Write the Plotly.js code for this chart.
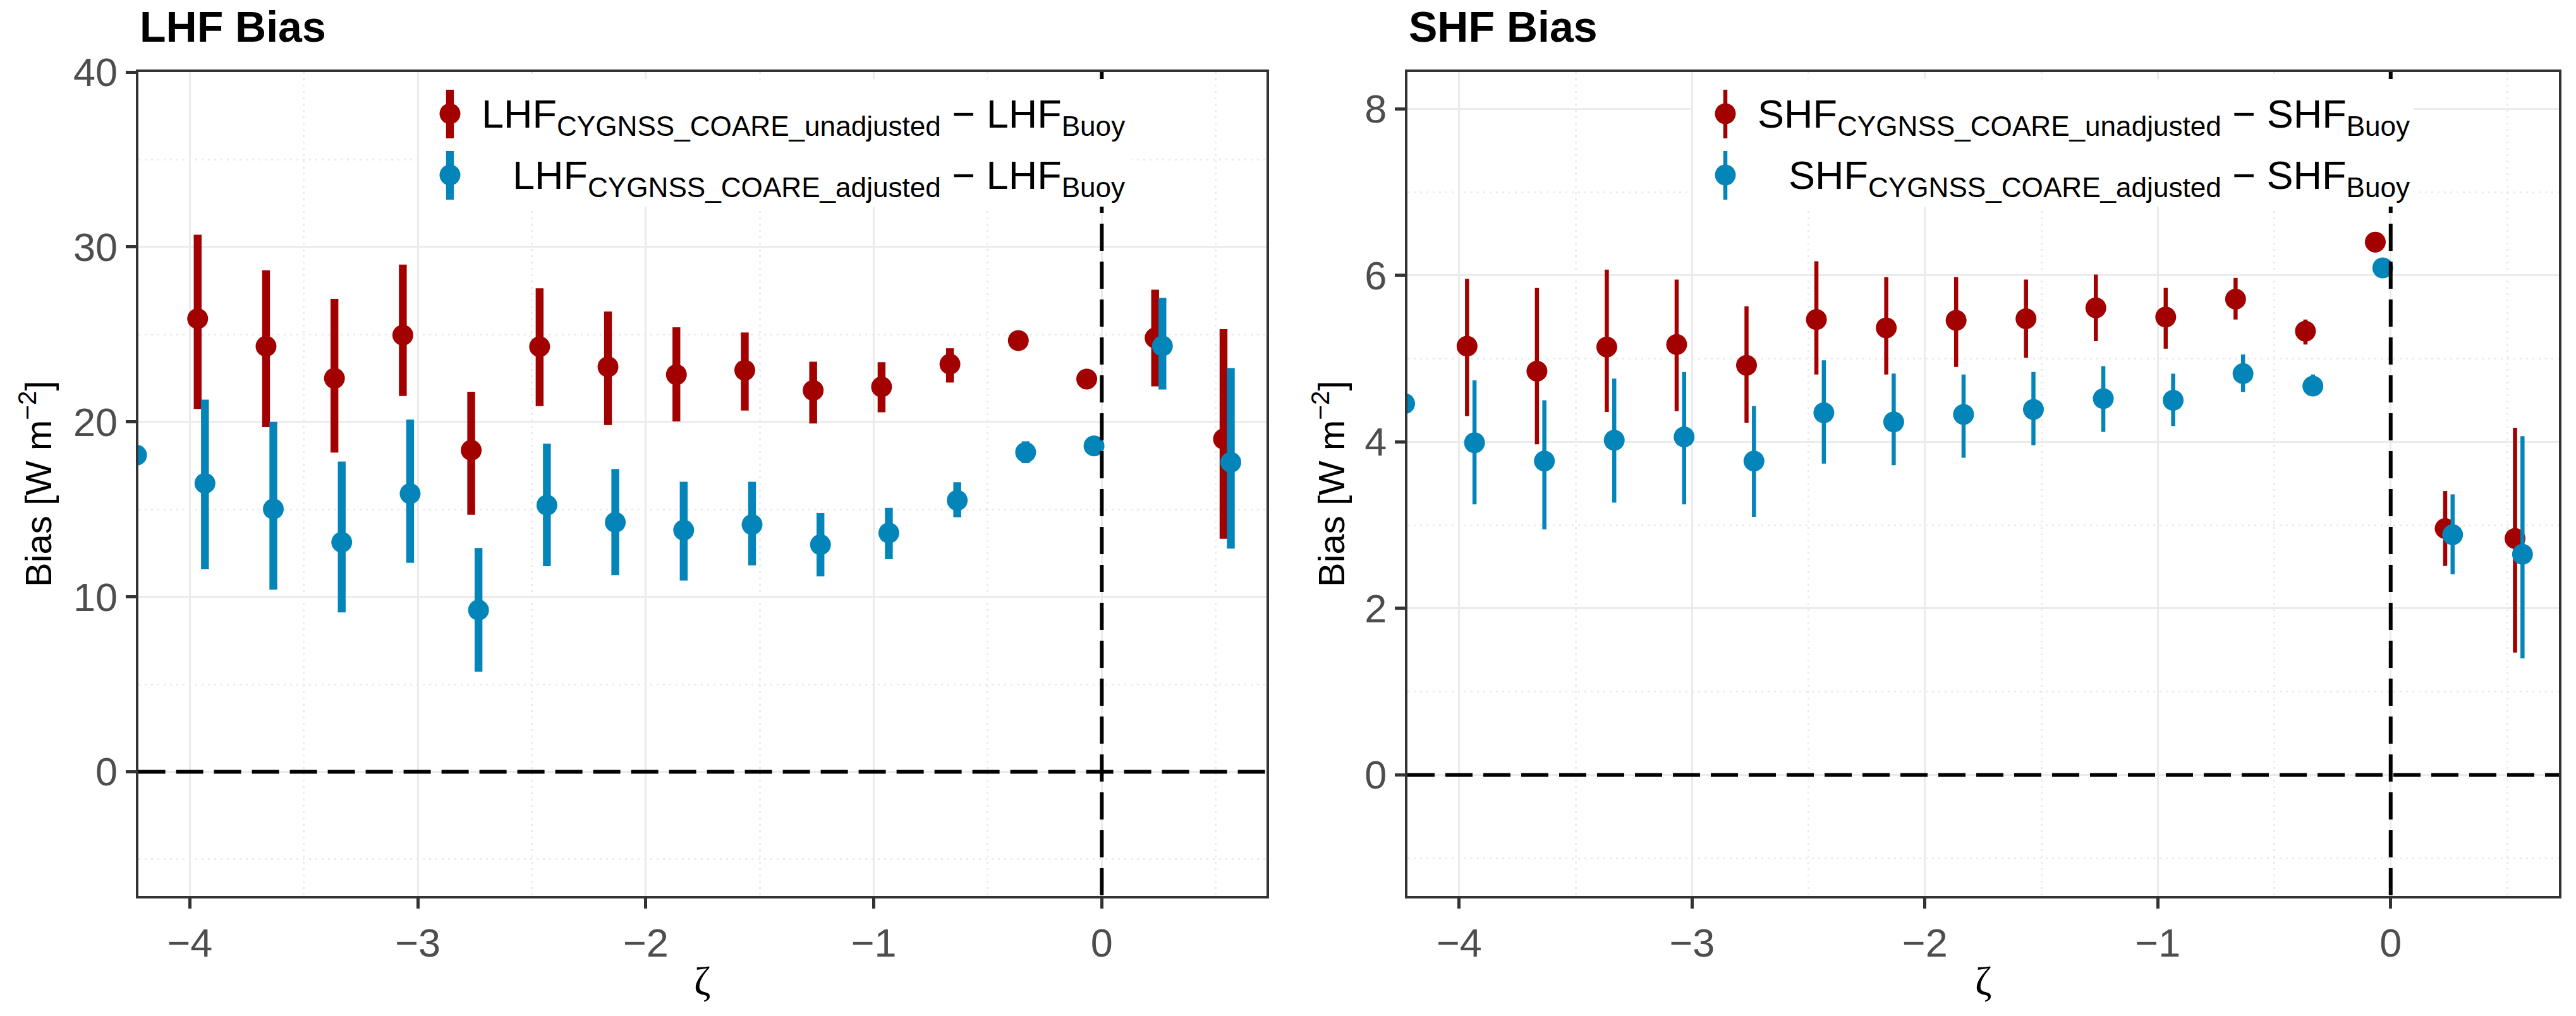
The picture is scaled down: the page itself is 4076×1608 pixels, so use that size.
<!DOCTYPE html>
<html><head><meta charset="utf-8">
<script src="https://cdn.plot.ly/plotly-3.0.1.min.js"></script>
<style>html,body{margin:0;padding:0;background:#fff}</style>
</head><body><div id="chart" style="width:4076px;height:1608px"></div>
<script>
// ---- data ----
const zetaUnadj = [-3.966, -3.666, -3.366, -3.066, -2.766, -2.466, -2.166, -1.866, -1.566, -1.266, -0.966, -0.666, -0.366, -0.066, 0.234, 0.534];
const zetaAdj = [-4.234, -3.934, -3.634, -3.334, -3.034, -2.734, -2.434, -2.134, -1.834, -1.534, -1.234, -0.934, -0.634, -0.334, -0.034, 0.266, 0.566];

const lhfUnadj   = [25.90, 24.32, 22.49, 24.96, 18.38, 24.30, 23.15, 22.70, 22.95, 21.80, 22.00, 23.30, 24.65, 22.45, 24.80, 19.02];
const lhfUnadjLo = [20.74, 19.70, 18.25, 21.48, 14.69, 20.90, 19.82, 20.03, 20.65, 19.91, 20.55, 22.25, 24.35, 22.15, 22.03, 13.32];
const lhfUnadjHi = [30.70, 28.67, 27.03, 28.99, 21.72, 27.64, 26.31, 25.41, 25.11, 23.44, 23.41, 24.21, 24.95, 22.75, 27.56, 25.30];

const lhfAdj   = [18.10, 16.49, 15.02, 13.12, 15.90, 9.24, 15.24, 14.26, 13.81, 14.13, 12.98, 13.65, 15.51, 18.26, 18.63, 24.34, 17.69];
const lhfAdjLo = [18.10, 11.57, 10.41, 9.11, 11.94, 5.72, 11.75, 11.24, 10.93, 11.80, 11.17, 12.15, 14.55, 17.64, 18.33, 21.85, 12.76];
const lhfAdjHi = [18.10, 21.27, 20.00, 17.73, 20.13, 12.79, 18.75, 17.31, 16.58, 16.58, 14.79, 15.09, 16.55, 18.89, 18.93, 27.09, 23.08];

const shfUnadj   = [5.15, 4.85, 5.14, 5.17, 4.92, 5.47, 5.37, 5.46, 5.48, 5.61, 5.50, 5.715, 5.33, 6.40, 2.96, 2.84];
const shfUnadjLo = [4.31, 3.97, 4.36, 4.37, 4.23, 4.81, 4.81, 4.90, 5.01, 5.21, 5.12, 5.47, 5.17, 6.35, 2.51, 1.47];
const shfUnadjHi = [5.96, 5.85, 6.07, 5.95, 5.63, 6.17, 5.98, 5.98, 5.95, 6.01, 5.85, 5.97, 5.47, 6.45, 3.41, 4.17];

const shfAdj   = [4.46, 3.99, 3.77, 4.02, 4.06, 3.77, 4.35, 4.24, 4.33, 4.39, 4.52, 4.50, 4.82, 4.67, 6.09, 2.885, 2.65];
const shfAdjLo = [4.46, 3.25, 2.95, 3.27, 3.25, 3.10, 3.74, 3.72, 3.81, 3.96, 4.12, 4.19, 4.60, 4.565, 6.04, 2.41, 1.40];
const shfAdjHi = [4.46, 4.74, 4.50, 4.76, 4.84, 4.43, 4.98, 4.82, 4.81, 4.84, 4.91, 4.82, 5.05, 4.81, 6.14, 3.37, 4.07];

const xTicks = [-4, -3, -2, -1, 0];
const lhfTicks = [0, 10, 20, 30, 40];
const shfTicks = [0, 2, 4, 6, 8];
const panelTitles = ['LHF Bias', 'SHF Bias'];
const legendLHF = ['LHF<sub>CYGNSS_COARE_unadjusted</sub> \u2212 LHF<sub>Buoy</sub>', 'LHF<sub>CYGNSS_COARE_adjusted</sub> \u2212 LHF<sub>Buoy</sub>'];
const legendSHF = ['SHF<sub>CYGNSS_COARE_unadjusted</sub> \u2212 SHF<sub>Buoy</sub>', 'SHF<sub>CYGNSS_COARE_adjusted</sub> \u2212 SHF<sub>Buoy</sub>'];
const yTitle = 'Bias [W m<sup>\u22122</sup>]';
const xTitle = '\u03B6';

// ---- styling ----
const RED = '#A30000', BLUE = '#0385B9';
const W = 4076, H = 1608;
const FONT = 'Liberation Sans, Arial, Helvetica, sans-serif';

function sub(a, b) { return a.map((v, i) => v - b[i]); }
function trace(x, y, lo, hi, color, thick, xa, ya, name) {
  return {
    type: 'scatter', mode: 'markers', x: x, y: y, name: name, xaxis: xa, yaxis: ya,
    marker: {color: color, size: 33, line: {width: 0}},
    error_y: {type: 'data', symmetric: false, array: sub(hi, y), arrayminus: sub(y, lo),
              color: color, thickness: thick, width: 0},
    showlegend: false, hoverinfo: 'x+y'
  };
}

const data = [
  trace(zetaUnadj, lhfUnadj, lhfUnadjLo, lhfUnadjHi, RED, 12.4, 'x', 'y', 'LHF unadjusted'),
  trace(zetaAdj, lhfAdj, lhfAdjLo, lhfAdjHi, BLUE, 12.4, 'x', 'y', 'LHF adjusted'),
  trace(zetaUnadj, shfUnadj, shfUnadjLo, shfUnadjHi, RED, 6.5, 'x2', 'y2', 'SHF unadjusted'),
  trace(zetaAdj, shfAdj, shfAdjLo, shfAdjHi, BLUE, 6.5, 'x2', 'y2', 'SHF adjusted')
];

const yDom = [1 - 1418 / H, 1 - 114 / H];
const minorBase = {showgrid: true, gridcolor: '#EBEBEB', gridwidth: 3, griddash: '3px,7px', ticks: ''};
function ax(extra, minorExtra) {
  return Object.assign({
    showline: true, linecolor: '#333333', linewidth: 4, mirror: true,
    ticks: 'outside', ticklen: 16, tickwidth: 5, tickcolor: '#333333',
    tickfont: {family: FONT, size: 63, color: '#4D4D4D'},
    showgrid: true, gridcolor: '#EBEBEB', gridwidth: 3, zeroline: false,
    minor: Object.assign({}, minorBase, minorExtra)
  }, extra);
}

const layout = {
  width: W, height: H, margin: {l: 0, r: 0, t: 0, b: 0},
  paper_bgcolor: '#ffffff', plot_bgcolor: '#ffffff', showlegend: false,
  font: {family: FONT, color: '#000000'},
  xaxis: ax({domain: [218.6 / W, 2003.6 / W], range: [-4.227, 0.7215], tickmode: 'array', tickvals: xTicks, anchor: 'y'},
            {dtick: 0.5, tick0: 0}),
  yaxis: ax({domain: yDom, range: [-7.1, 40], tickmode: 'array', tickvals: lhfTicks, anchor: 'x'},
            {dtick: 5, tick0: 0}),
  xaxis2: ax({domain: [2227 / W, 4049 / W], range: [-4.222, 0.7225], tickmode: 'array', tickvals: xTicks, anchor: 'y2'},
            {dtick: 0.5, tick0: 0}),
  yaxis2: ax({domain: yDom, range: [-1.454, 8.443], tickmode: 'array', tickvals: shfTicks, anchor: 'x2'},
            {dtick: 1, tick0: 0}),
  shapes: [], annotations: []
};

const dashStyle = {color: '#000000', width: 6, dash: '43px,17px'};
[['x', 'y'], ['x2', 'y2']].forEach(([xa, ya]) => {
  layout.shapes.push({type: 'line', layer: 'above', xref: xa + ' domain', yref: ya, x0: 0, x1: 1, y0: 0, y1: 0, line: dashStyle});
  layout.shapes.push({type: 'line', layer: 'above', xref: xa, yref: ya + ' domain', x0: 0, x1: 0, y0: 1, y1: 0, line: dashStyle});
});

// legend boxes (drawn manually, ggplot-style inside the panel)
function px(v) { return v / W; }
function py(v) { return 1 - v / H; }
const legends = [
  {box: [665, 1790], glyphX: 712, textRight: 1782, thick: 12.4, labels: legendLHF},
  {box: [2679, 3819], glyphX: 2730, textRight: 3815, thick: 6.5, labels: legendSHF}
];
legends.forEach(lg => {
  layout.shapes.push({type: 'rect', layer: 'above', xref: 'paper', yref: 'paper',
    x0: px(lg.box[0]), x1: px(lg.box[1]), y0: py(327), y1: py(125), fillcolor: '#ffffff', line: {width: 0}});
  [[RED, 142, 219, 180], [BLUE, 239, 316, 277]].forEach(([c, t, b, cy], i) => {
    layout.shapes.push({type: 'line', layer: 'above', xref: 'paper', yref: 'paper',
      x0: px(lg.glyphX), x1: px(lg.glyphX), y0: py(t), y1: py(b), line: {color: c, width: lg.thick}});
    layout.shapes.push({type: 'circle', layer: 'above', xref: 'paper', yref: 'paper',
      x0: px(lg.glyphX - 16.5), x1: px(lg.glyphX + 16.5), y0: py(cy + 16.5), y1: py(cy - 16.5),
      fillcolor: c, line: {width: 0}});
    layout.annotations.push({xref: 'paper', yref: 'paper', x: px(lg.textRight), y: py(cy + 4),
      xanchor: 'right', yanchor: 'middle', showarrow: false, text: lg.labels[i],
      font: {family: FONT, size: 63, color: '#000000'}});
  });
});

// panel titles and axis titles
[[218.6, 2003.6, 56], [2227, 4049, 2102]].forEach(([l, r, yt], i) => {
  layout.annotations.push({xref: 'paper', yref: 'paper', x: px(l), y: py(42), xanchor: 'left', yanchor: 'middle',
    showarrow: false, text: '<b>' + panelTitles[i] + '</b>', font: {family: FONT, size: 68, color: '#000000'}});
  layout.annotations.push({xref: 'paper', yref: 'paper', x: px(yt), y: py(766), xanchor: 'center', yanchor: 'middle',
    textangle: -90, showarrow: false, text: yTitle, font: {family: FONT, size: 58, color: '#000000'}});
  layout.annotations.push({xref: 'paper', yref: 'paper', x: px((l + r) / 2), y: py(1552), xanchor: 'center', yanchor: 'middle',
    showarrow: false, text: xTitle, font: {family: 'Liberation Serif, DejaVu Serif, serif', size: 64, color: '#000000'}});
});

Plotly.newPlot('chart', data, layout, {staticPlot: true});
</script>
</body></html>
